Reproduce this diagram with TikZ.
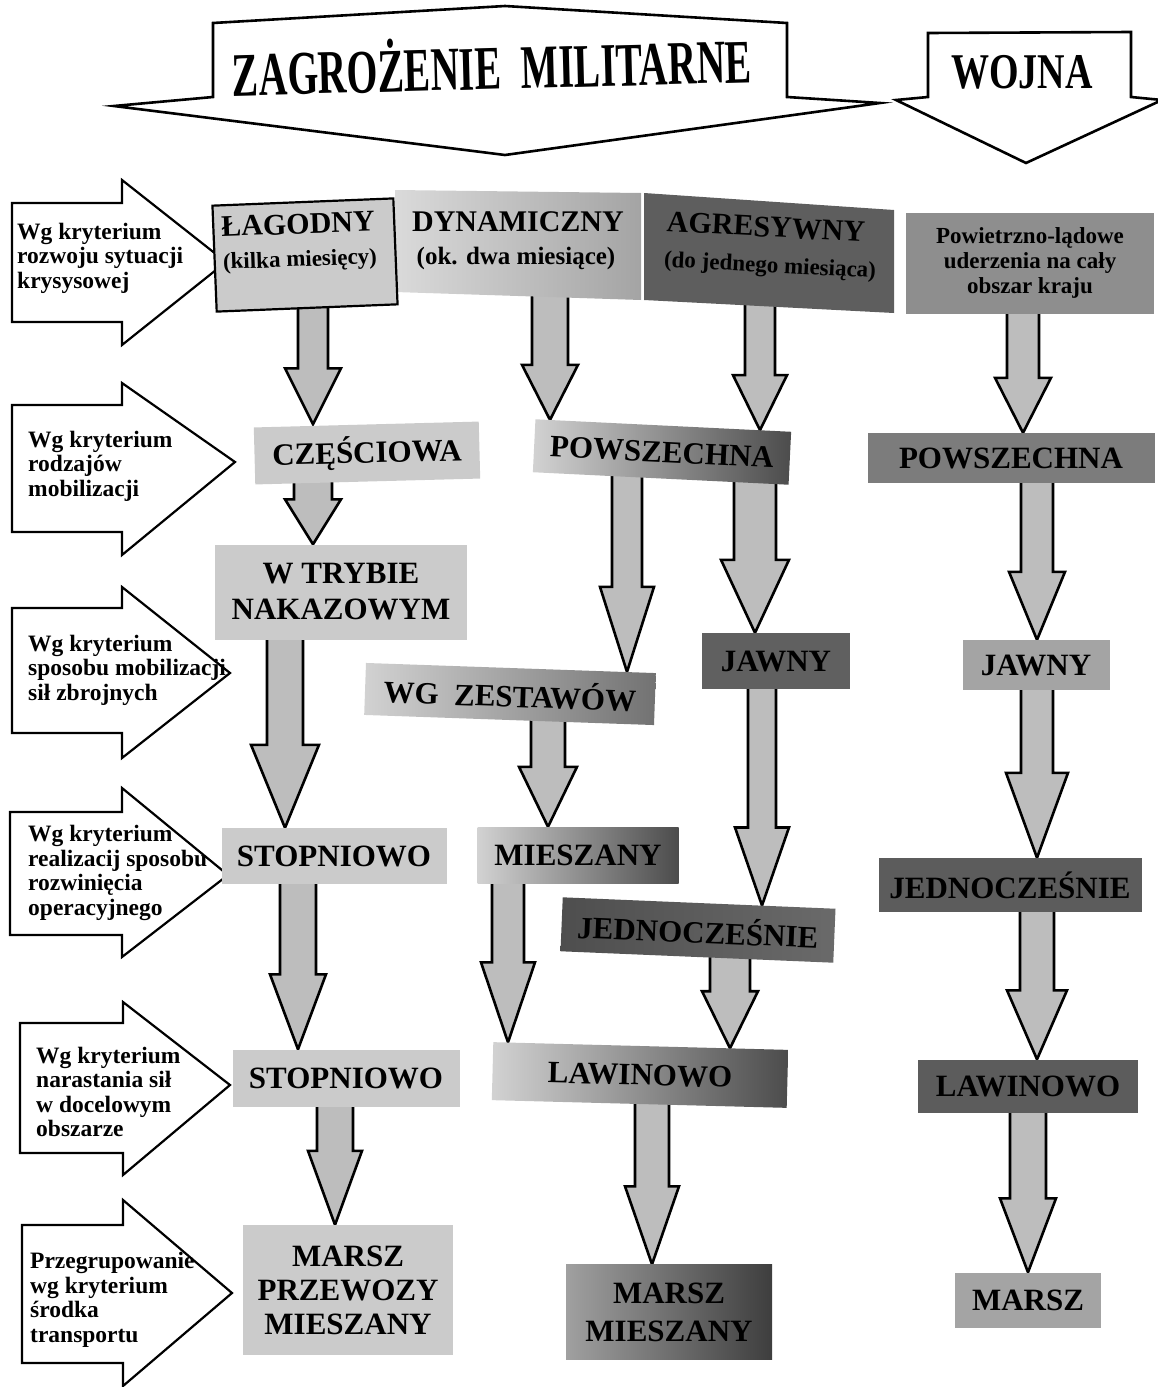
\documentclass[tikz,border=0pt]{standalone}
\usepackage{fontspec}
\setmainfont{Liberation Serif}
\usepackage{graphicx}
\usetikzlibrary{calc}
\pgfdeclarelayer{bg}
\pgfsetlayers{bg,main}
\definecolor{lbox}{HTML}{CBCBCB}
\definecolor{afill}{HTML}{BDBDBD}
\definecolor{dbox}{HTML}{5C5C5C}
\definecolor{jbox}{HTML}{606060}
\definecolor{mbox}{HTML}{8E8E8E}
\definecolor{pwbox}{HTML}{7C7C7C}
\definecolor{pbox}{HTML}{A4A4A4}
\definecolor{dynl}{HTML}{DADADA}
\definecolor{dynr}{HTML}{A4A4A4}
\definecolor{agrc}{HTML}{5E5E5E}
\definecolor{sh1}{HTML}{D2D2D2}
\definecolor{sh2}{HTML}{ABABAB}
\definecolor{sh3}{HTML}{4C4C4C}
\definecolor{sh4}{HTML}{727272}
\definecolor{sh5}{HTML}{4E4E4E}
\definecolor{sh6}{HTML}{6A6A6A}
\definecolor{sh7}{HTML}{A0A0A0}
\definecolor{sh8}{HTML}{3E3E3E}
\newcommand\bxf{\fontsize{31}{36}\selectfont\bfseries}
\newcommand\ttf{\fontsize{30}{32}\selectfont\bfseries}
\newcommand\stf{\fontsize{23}{25}\selectfont\bfseries}
\newcommand\sdf{\fontsize{23.5}{24.5}\selectfont\bfseries}
\tikzset{
 bigarr/.style={draw=black, line width=2.6pt, fill=white, line join=miter},
 sidearr/.style={draw=black, line width=2.2pt, fill=white, line join=miter},
 fatarr/.style={draw=black, line width=2.6pt, fill=afill, line join=miter},
 boxnode/.style={inner sep=0pt, align=center, font=\bxf},
 sidetxt/.style={inner sep=0pt, align=left, anchor=west, font=\sdf},
 txt/.style={inner sep=0pt},
}
% x, from, to, half shaft, half head, head length
\newcommand\fatarrow[6]{%
 \begin{pgfonlayer}{bg}
 \filldraw[fatarr] let \p1=#2, \p2=#3 in
  ({#1pt-#4pt},{\y1+6pt}) -- ({#1pt-#4pt},{\y2+#6pt}) -- ({#1pt-#5pt},{\y2+#6pt}) -- (#1pt,\y2) -- ({#1pt+#5pt},{\y2+#6pt}) -- ({#1pt+#4pt},{\y2+#6pt}) -- ({#1pt+#4pt},{\y1+6pt});
 \end{pgfonlayer}}
% xl, shaft top, shaft bottom, xhead, head top, head bottom, xtip, ytip
\newcommand\sidearrow[8]{\draw[sidearr] (#1,#2) -- (#4,#2) -- (#4,#5) -- (#7,#8) -- (#4,#6) -- (#4,#3) -- (#1,#3) -- cycle;}
\begin{document}
\begin{tikzpicture}[x=1pt,y=-1pt]
\useasboundingbox (0,0) rectangle (1157,1387);
% top arrows
\draw[bigarr] (213,23) -- (505,6) -- (787,23) -- (787,97) -- (880,103) -- (505,155) -- (114,106) -- (213,97) -- cycle;
\node[txt, rotate=1.5] (zag) at (492,63) {\scalebox{0.64}[1]{\fontsize{62}{64}\selectfont\bfseries ZAGROŻENIE\ \ MILITARNE}};
\draw[bigarr] (928,33) -- (1131,32) -- (1131,97) -- (1162,100) -- (1026,163) -- (896,100) -- (928,97) -- cycle;
\node[txt] (wojna) at (1022,72) {\scalebox{0.76}[1]{\fontsize{50}{52}\selectfont\bfseries WOJNA}};
% side arrows
\sidearrow{12}{203}{322}{122}{180}{345}{226}{262}
\sidearrow{12}{405}{532}{122}{383}{555}{235}{462}
\sidearrow{12}{608}{733}{122}{587}{758}{230}{673}
\sidearrow{10}{812}{935}{122}{788}{957}{228}{875}
\sidearrow{20}{1023}{1153}{123}{1002}{1175}{230}{1085}
\sidearrow{22}{1225}{1363}{123}{1200}{1386}{232}{1293}
\node[sidetxt] (t1) at (17,258) {Wg kryterium\\rozwoju sytuacji\\krysysowej};
\node[sidetxt] (t2) at (28,466) {Wg kryterium\\rodzajów\\mobilizacji};
\node[sidetxt] (t3) at (28,670) {Wg kryterium\\sposobu mobilizacji\\sił zbrojnych};
\node[sidetxt] (t4) at (28,873) {Wg kryterium\\realizacij sposobu\\rozwinięcia\\operacyjnego};
\node[sidetxt] (t5) at (36,1092) {Wg kryterium\\narastania sił\\w docelowym\\obszarze};
\node[sidetxt] (t6) at (30,1300) {Przegrupowanie\\wg kryterium\\środka\\transportu};
% top row
\shade[left color=dynl, right color=dynr] (395,190) -- (641,193) -- (641,300) -- (395,292) -- cycle;
\fill[agrc] (644,193) -- (894,210) -- (894,313) -- (644,300) -- cycle;
\node[boxnode, draw=black, line width=2.2pt, fill=lbox, minimum width=181pt, minimum height=106pt, rotate=2.3] (lag) at (305,255) {};
\node[txt, font=\ttf, rotate=2] (lagt) at (298,224) {ŁAGODNY};
\node[txt, font=\stf, rotate=2] (lags) at (300,261) {(kilka miesięcy)};
\node[txt, font=\ttf] (dyn) at (518,222) {DYNAMICZNY};
\node[txt, font=\fontsize{25}{27}\selectfont\bfseries] (dyns) at (516,258) {(ok. dwa miesiące)};
\node[txt, font=\ttf, rotate=-3] (agr) at (766,227) {AGRESYWNY};
\node[txt, font=\stf, rotate=-3] (agrs) at (770,267) {(do jednego miesiąca)};
\coordinate (dynb) at (550,294);
\coordinate (agrb) at (760,305);
\node[boxnode, fill=mbox, minimum width=248pt, minimum height=101pt, font=\fontsize{23}{25}\selectfont\bfseries] (pow) at (1030,263) {Powietrzno-lądowe\\uderzenia na cały\\obszar kraju};
% row 2
\node[boxnode, fill=lbox, minimum width=225pt, minimum height=57pt, rotate=1.5] (czes) at (367,453) {CZĘŚCIOWA};
\node[boxnode, left color=sh1, middle color=sh2, right color=sh3, minimum width=256pt, minimum height=53pt, rotate=-2.8] (pw1) at (662,452) {POWSZECHNA};
\node[boxnode, fill=pwbox, minimum width=287pt, minimum height=50pt] (pw2) at (1011,458) {POWSZECHNA};
% row 3
\node[boxnode, fill=lbox, minimum width=252pt, minimum height=95pt] (tryb) at (341,592) {W TRYBIE\\NAKAZOWYM};
\node[boxnode, left color=sh1, right color=sh4, minimum width=290pt, minimum height=52pt, rotate=-2] (zest) at (510,694) {WG\ \ ZESTAWÓW};
\node[boxnode, fill=jbox, minimum width=148pt, minimum height=56pt] (jaw1) at (776,661) {JAWNY};
\node[boxnode, fill=pbox, minimum width=147pt, minimum height=50pt] (jaw2) at (1036,665) {JAWNY};
% row 4
\node[boxnode, fill=lbox, minimum width=225pt, minimum height=56pt] (st1) at (334,856) {STOPNIOWO};
\node[boxnode, left color=sh1, right color=sh3, minimum width=201pt, minimum height=56pt] (mie) at (578,855) {MIESZANY};
\node[boxnode, left color=sh5, right color=sh6, minimum width=273pt, minimum height=54pt, rotate=-2.4] (jd1) at (698,930) {JEDNOCZEŚNIE};
\node[boxnode, fill=dbox, minimum width=263pt, minimum height=54pt] (jd2) at (1010,885) {JEDNOCZEŚNIE};
% row 5
\node[boxnode, fill=lbox, minimum width=227pt, minimum height=57pt] (st2) at (346,1078) {STOPNIOWO};
\node[boxnode, left color=sh1, middle color=sh2, right color=sh3, minimum width=295pt, minimum height=58pt, rotate=-1.5] (law1) at (640,1075) {LAWINOWO};
\node[boxnode, fill=dbox, minimum width=220pt, minimum height=53pt] (law2) at (1028,1086) {LAWINOWO};
% row 6
\node[boxnode, fill=lbox, minimum width=210pt, minimum height=130pt, font=\fontsize{31}{34}\selectfont\bfseries] (ms1) at (348,1290) {MARSZ\\PRZEWOZY\\MIESZANY};
\node[boxnode, left color=sh7, right color=sh8, minimum width=206pt, minimum height=95pt, font=\fontsize{31}{38}\selectfont\bfseries] (ms2) at (669,1312) {MARSZ\\MIESZANY};
\node[boxnode, fill=pbox, minimum width=146pt, minimum height=55pt] (ms3) at (1028,1300) {MARSZ};
% connectors
\fatarrow{313}{(lag.south)}{(czes.north)}{15}{28}{56}
\fatarrow{313}{(czes.south)}{(tryb.north)}{19}{28}{45}
\fatarrow{285}{(tryb.south)}{(st1.north)}{18}{34}{83}
\fatarrow{298}{(st1.south)}{(st2.north)}{18}{28}{75}
\fatarrow{335}{(st2.south)}{(ms1.north)}{18}{27}{74}
\fatarrow{550}{(dynb)}{($(pw1.north west)!0.06!(pw1.north east)$)}{18}{28}{55}
\fatarrow{760}{(agrb)}{($(pw1.north west)!0.88!(pw1.north east)$)}{15}{27}{55}
\fatarrow{627}{($(pw1.south west)!0.36!(pw1.south east)$)}{($(zest.north west)!0.9!(zest.north east)$)}{15}{27}{85}
\fatarrow{755}{($(pw1.south west)!0.86!(pw1.south east)$)}{(jaw1.north)}{21}{34}{73}
\fatarrow{548}{($(zest.south west)!0.63!(zest.south east)$)}{(mie.north)}{17}{29}{60}
\fatarrow{762}{(jaw1.south)}{($(jd1.north west)!0.73!(jd1.north east)$)}{14}{27}{78}
\fatarrow{508}{(mie.south)}{($(law1.north west)!0.05!(law1.north east)$)}{16}{27}{80}
\fatarrow{730}{($(jd1.south west)!0.62!(jd1.south east)$)}{($(law1.north west)!0.81!(law1.north east)$)}{20}{28}{57}
\fatarrow{652}{($(law1.south west)!0.54!(law1.south east)$)}{(ms2.north)}{17}{27}{78}
\fatarrow{1023}{(pow.south)}{(pw2.north)}{16}{28}{55}
\fatarrow{1037}{(pw2.south)}{(jaw2.north)}{16}{28}{68}
\fatarrow{1037}{(jaw2.south)}{(jd2.north)}{16}{31}{85}
\fatarrow{1037}{(jd2.south)}{(law2.north)}{17}{30}{69}
\fatarrow{1028}{(law2.south)}{(ms3.north)}{18}{28}{74}
\end{tikzpicture}
\end{document}
